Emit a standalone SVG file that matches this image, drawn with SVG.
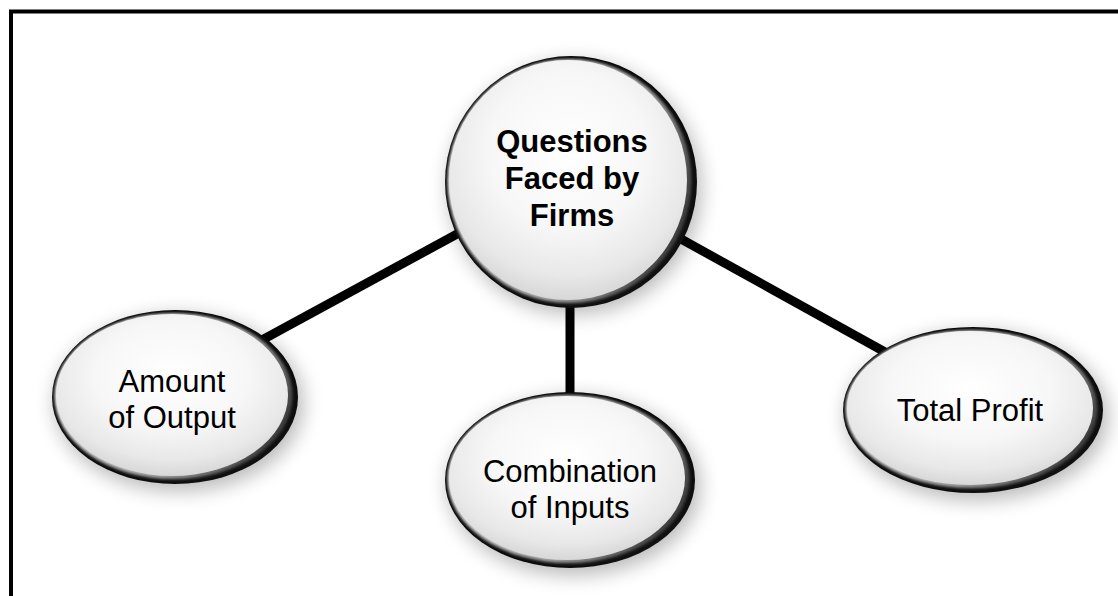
<svg xmlns="http://www.w3.org/2000/svg" width="1118" height="596" viewBox="0 0 1118 596">
  <defs>
    <style>
      .frame { fill: none; stroke: #000; stroke-width: 4; }
      .link { stroke: #000; stroke-width: 9; stroke-linecap: butt; }
      .halo { fill: #000; opacity: 0.28; filter: url(#soft); }
      .rim { fill: url(#rimGrad); }
      .mid { fill: url(#bevelGrad); filter: url(#edgeBlur); }
      .face { fill: url(#faceGrad); }
      .title { font-family: "Liberation Sans", Arial, sans-serif; font-size: 31px; font-weight: bold; fill: #000; text-anchor: middle; }
      .label { font-family: "Liberation Sans", Arial, sans-serif; font-size: 31px; fill: #000; text-anchor: middle; }
    </style>
    <filter id="soft" x="-30%" y="-30%" width="160%" height="160%">
      <feGaussianBlur stdDeviation="10"/>
    </filter>
    <filter id="edgeBlur" x="-10%" y="-10%" width="120%" height="120%">
      <feGaussianBlur stdDeviation="1.5"/>
    </filter>
    <linearGradient id="rimGrad" x1="0.2" y1="0.2" x2="0.85" y2="0.9">
      <stop offset="0" stop-color="#000"/>
      <stop offset="1" stop-color="#111"/>
    </linearGradient>
    <linearGradient id="bevelGrad" x1="0.1" y1="0.3" x2="1" y2="0.7">
      <stop offset="0" stop-color="#e8e8e8"/>
      <stop offset="0.6" stop-color="#a0a0a0"/>
      <stop offset="1" stop-color="#303030"/>
    </linearGradient>
    <radialGradient id="faceGrad" cx="0.5" cy="0.38" r="0.65">
      <stop offset="0" stop-color="#ffffff"/>
      <stop offset="0.5" stop-color="#f7f7f7"/>
      <stop offset="0.8" stop-color="#e8e8e8"/>
      <stop offset="1" stop-color="#d2d2d2"/>
    </radialGradient>
  </defs>

  <!-- page frame: top and left rules only -->
  <path class="frame" d="M11 596 V11.5 H1118"/>

  <!-- soft shadows beneath the bubbles -->
  <g id="shadows">
    <circle class="halo" cx="575" cy="188" r="126"/>
    <ellipse class="halo" cx="179" cy="403" rx="124" ry="88"/>
    <ellipse class="halo" cx="574" cy="486" rx="126" ry="89"/>
    <ellipse class="halo" cx="977" cy="416" rx="131" ry="84"/>
  </g>

  <g id="connectors">
    <line class="link" x1="470" y1="227" x2="262" y2="340"/>
    <line class="link" x1="672" y1="234" x2="885" y2="352"/>
    <line class="link" x1="570" y1="300" x2="570" y2="398"/>
  </g>

  <g id="node-questions">
    <circle class="rim" cx="571" cy="182" r="126"/>
    <ellipse class="mid" cx="569.5" cy="181" rx="122" ry="122"/>
    <ellipse class="face" cx="568" cy="180" rx="119" ry="120"/>
    <text class="title" x="572" y="152">Questions</text>
    <text class="title" x="572" y="189">Faced by</text>
    <text class="title" x="572" y="226">Firms</text>
  </g>

  <g id="node-output">
    <ellipse class="rim" cx="175" cy="397" rx="123" ry="87"/>
    <ellipse class="mid" cx="173.5" cy="396" rx="119" ry="83"/>
    <ellipse class="face" cx="172" cy="395" rx="116" ry="81"/>
    <text class="label" x="172" y="392">Amount</text>
    <text class="label" x="172" y="428">of Output</text>
  </g>

  <g id="node-inputs">
    <ellipse class="rim" cx="570" cy="480" rx="125" ry="88"/>
    <ellipse class="mid" cx="568.5" cy="479" rx="121" ry="84"/>
    <ellipse class="face" cx="567" cy="478" rx="118" ry="82"/>
    <text class="label" x="570" y="482">Combination</text>
    <text class="label" x="570" y="518">of Inputs</text>
  </g>

  <g id="node-profit">
    <ellipse class="rim" cx="973" cy="410" rx="130" ry="83"/>
    <ellipse class="mid" cx="971.5" cy="409" rx="126" ry="79"/>
    <ellipse class="face" cx="970" cy="408" rx="123" ry="77"/>
    <text class="label" x="970" y="421">Total Profit</text>
  </g>
</svg>
